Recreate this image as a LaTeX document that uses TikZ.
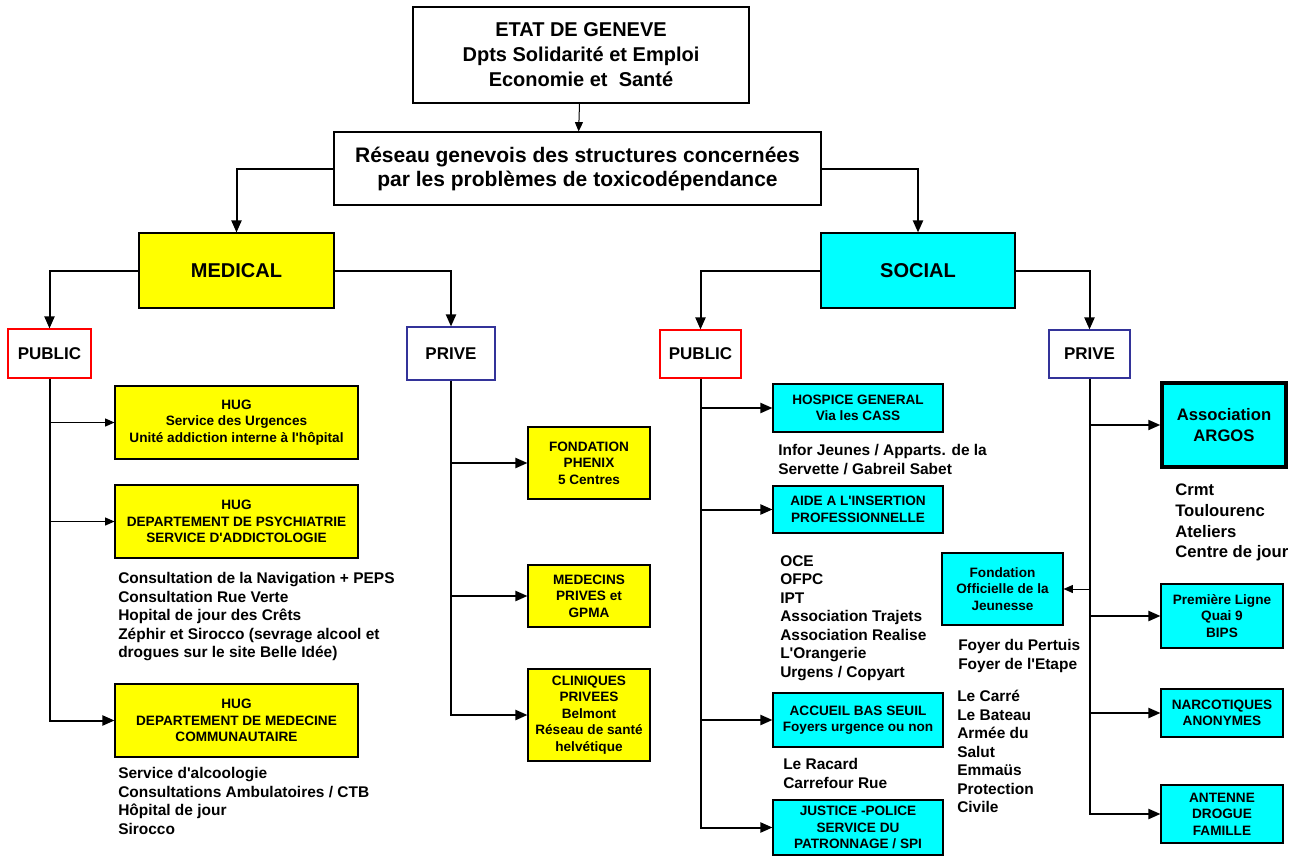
\documentclass[tikz,border=0pt]{standalone}
\usepackage{fontspec}
\setmainfont{Liberation Sans}[Ligatures=TeXOff]
\usetikzlibrary{arrows.meta}

\definecolor{medyellow}{RGB}{255,255,0}
\definecolor{soccyan}{RGB}{0,255,255}
\definecolor{privblue}{RGB}{51,51,153}

\begin{document}
\begin{tikzpicture}[x=0.75pt,y=-0.75pt,
    sz/.style 2 args={minimum width=#1*0.75pt,minimum height=#2*0.75pt},
    box/.style={draw,line width=0.8pt,inner sep=0pt,align=center,
        font=\fontsize{10.2pt}{12.3pt}\selectfont\bfseries},
    medbox/.style={box,fill=medyellow},
    socbox/.style={box,fill=soccyan},
    pubbox/.style={box,draw=red,font=\fontsize{12.75pt}{15pt}\selectfont\bfseries},
    privbox/.style={box,draw=privblue,font=\fontsize{12.75pt}{15pt}\selectfont\bfseries},
    list/.style={anchor=north west,inner sep=0pt,align=left,
        font=\fontsize{11.6pt}{13.9pt}\selectfont\bfseries},
    conn/.style={line width=1.5pt,-{Triangle[length=9pt,width=7.5pt]}},
    thinconn/.style={line width=0.75pt,-{Triangle[length=7pt,width=6pt]}}
    ]

            \useasboundingbox (0,0) rectangle (1299,856);

            % top of the tree
            \node[box,sz={336}{96},font=\fontsize{15pt}{18.75pt}\selectfont\bfseries] (etat) at (581,55)
                {ETAT DE GENEVE\\Dpts Solidarité et Emploi\\Economie et\ \ Santé};
            \node[box,sz={487}{73},font=\fontsize{15.75pt}{18pt}\selectfont\bfseries] (reseau) at (577.5,168.5)
                {Réseau genevois des structures concernées\\par les problèmes de toxicodépendance};
            \node[medbox,sz={195}{75},font=\fontsize{15pt}{18pt}\selectfont\bfseries] (medical) at (236.5,270.5) {MEDICAL};
            \node[socbox,sz={194}{75},font=\fontsize{15pt}{18pt}\selectfont\bfseries] (social) at (918,270.5) {SOCIAL};

            \node[pubbox,sz={83}{49}] (pubmed) at (49.5,353.5) {PUBLIC};
            \node[privbox,sz={88}{53}] (privmed) at (451,353.5) {PRIVE};
            \node[pubbox,sz={81}{48}] (pubsoc) at (700.5,354) {PUBLIC};
            \node[privbox,sz={81}{48}] (privsoc) at (1089.5,354) {PRIVE};

            \draw[thinconn] (etat) -- (reseau);
            \draw[conn] (reseau.west) -| (medical.north);
            \draw[conn] (reseau.east) -| (social.north);
            \draw[conn] (medical.west) -| (pubmed.north);
            \draw[conn] (medical.east) -| (privmed.north);
            \draw[conn] (social.west) -| (pubsoc.north);
            \draw[conn] (social.east) -| (privsoc.north);

            % medical, public
            \node[medbox,sz={243}{73}] (hugurg) at (236.5,422.5)
                {HUG\\Service des Urgences\\Unité addiction interne à l'hôpital};
            \node[medbox,sz={243}{73}] (hugpsy) at (236.5,521.5)
                {HUG\\DEPARTEMENT DE PSYCHIATRIE\\SERVICE D'ADDICTOLOGIE};
            \node[medbox,sz={243}{73}] (hugcom) at (236.5,720.5)
                {HUG\\DEPARTEMENT DE MEDECINE\\COMMUNAUTAIRE};
            \node[list] (psylist) at (118,572)
                {Consultation de la Navigation + PEPS\\Consultation Rue Verte\\Hopital de jour des Crêts\\
                 Zéphir et Sirocco (sevrage alcool et\\drogues sur le site Belle Idée)};
            \node[list] (comlist) at (118,767)
                {Service d'alcoologie\\Consultations Ambulatoires / CTB\\Hôpital de jour\\Sirocco};

            \draw[conn] (pubmed.south) |- (hugcom.west);
            \draw[thinconn] (pubmed.south |- hugurg.west) -- (hugurg.west);
            \draw[thinconn] (pubmed.south |- hugpsy.west) -- (hugpsy.west);

            % medical, prive
            \node[medbox,sz={122}{72}] (phenix) at (589,463) {FONDATION\\PHENIX\\5 Centres};
            \node[medbox,sz={122}{62}] (medecins) at (589,596) {MEDECINS\\PRIVES et\\GPMA};
            \node[medbox,sz={122}{92}] (cliniques) at (589,715)
                {CLINIQUES\\PRIVEES\\Belmont\\Réseau de santé\\helvétique};

            \draw[conn] (privmed.south) |- (cliniques.west);
            \draw[conn] (privmed.south |- phenix.west) -- (phenix.west);
            \draw[conn] (privmed.south |- medecins.west) -- (medecins.west);

            % social, public
            \node[socbox,sz={170}{48}] (hospice) at (858,408) {HOSPICE GENERAL\\Via les CASS};
            \node[socbox,sz={170}{47}] (aide) at (858,509.5) {AIDE A L'INSERTION\\PROFESSIONNELLE};
            \node[socbox,sz={170}{54}] (accueil) at (858,720) {ACCUEIL BAS SEUIL\\Foyers urgence ou non};
            \node[socbox,sz={170}{55}] (justice) at (858,827.5) {JUSTICE -POLICE\\SERVICE DU\\PATRONNAGE / SPI};
            \node[list] (hosplist) at (778,444) {Infor Jeunes / Apparts. de la\\Servette / Gabreil Sabet};
            \node[list] (aidelist) at (780,555)
                {OCE\\OFPC\\IPT\\Association Trajets\\Association Realise\\L'Orangerie\\Urgens / Copyart};
            \node[list] (accueillist) at (783,758) {Le Racard\\Carrefour Rue};
            \node[list] (carrelist) at (957,690)
                {Le Carré\\Le Bateau\\Armée du\\Salut\\Emmaüs\\Protection\\Civile};

            \draw[conn] (pubsoc.south) |- (justice.west);
            \draw[conn] (pubsoc.south |- hospice.west) -- (hospice.west);
            \draw[conn] (pubsoc.south |- aide.west) -- (aide.west);
            \draw[conn] (pubsoc.south |- accueil.west) -- (accueil.west);

            % social, prive
            \node[socbox,sz={124}{84},line width=2.6pt,font=\fontsize{12.5pt}{15.5pt}\selectfont\bfseries] (argos) at (1224,425)
                {Association\\ARGOS};
            \node[socbox,sz={121}{72}] (foj) at (1002.5,589) {Fondation\\Officielle de la\\Jeunesse};
            \node[socbox,sz={122}{64}] (premiere) at (1222,616) {Première Ligne\\Quai 9\\BIPS};
            \node[socbox,sz={122}{48}] (narco) at (1222,713) {NARCOTIQUES\\ANONYMES};
            \node[socbox,sz={122}{58}] (antenne) at (1222,814) {ANTENNE\\DROGUE\\FAMILLE};
            \node[list,font=\fontsize{12.5pt}{15.5pt}\selectfont\bfseries] (argoslist) at (1175,484)
                {Crmt\\Toulourenc\\Ateliers\\Centre de jour};
            \node[list] (fojlist) at (958,639) {Foyer du Pertuis\\Foyer de l'Etape};

            \draw[conn] (privsoc.south) |- (antenne.west);
            \draw[conn] (privsoc.south |- argos.west) -- (argos.west);
            \draw[thinconn] (privsoc.south |- foj.east) -- (foj.east);
            \draw[conn] (privsoc.south |- premiere.west) -- (premiere.west);
            \draw[conn] (privsoc.south |- narco.west) -- (narco.west);

\end{tikzpicture}
\end{document}
